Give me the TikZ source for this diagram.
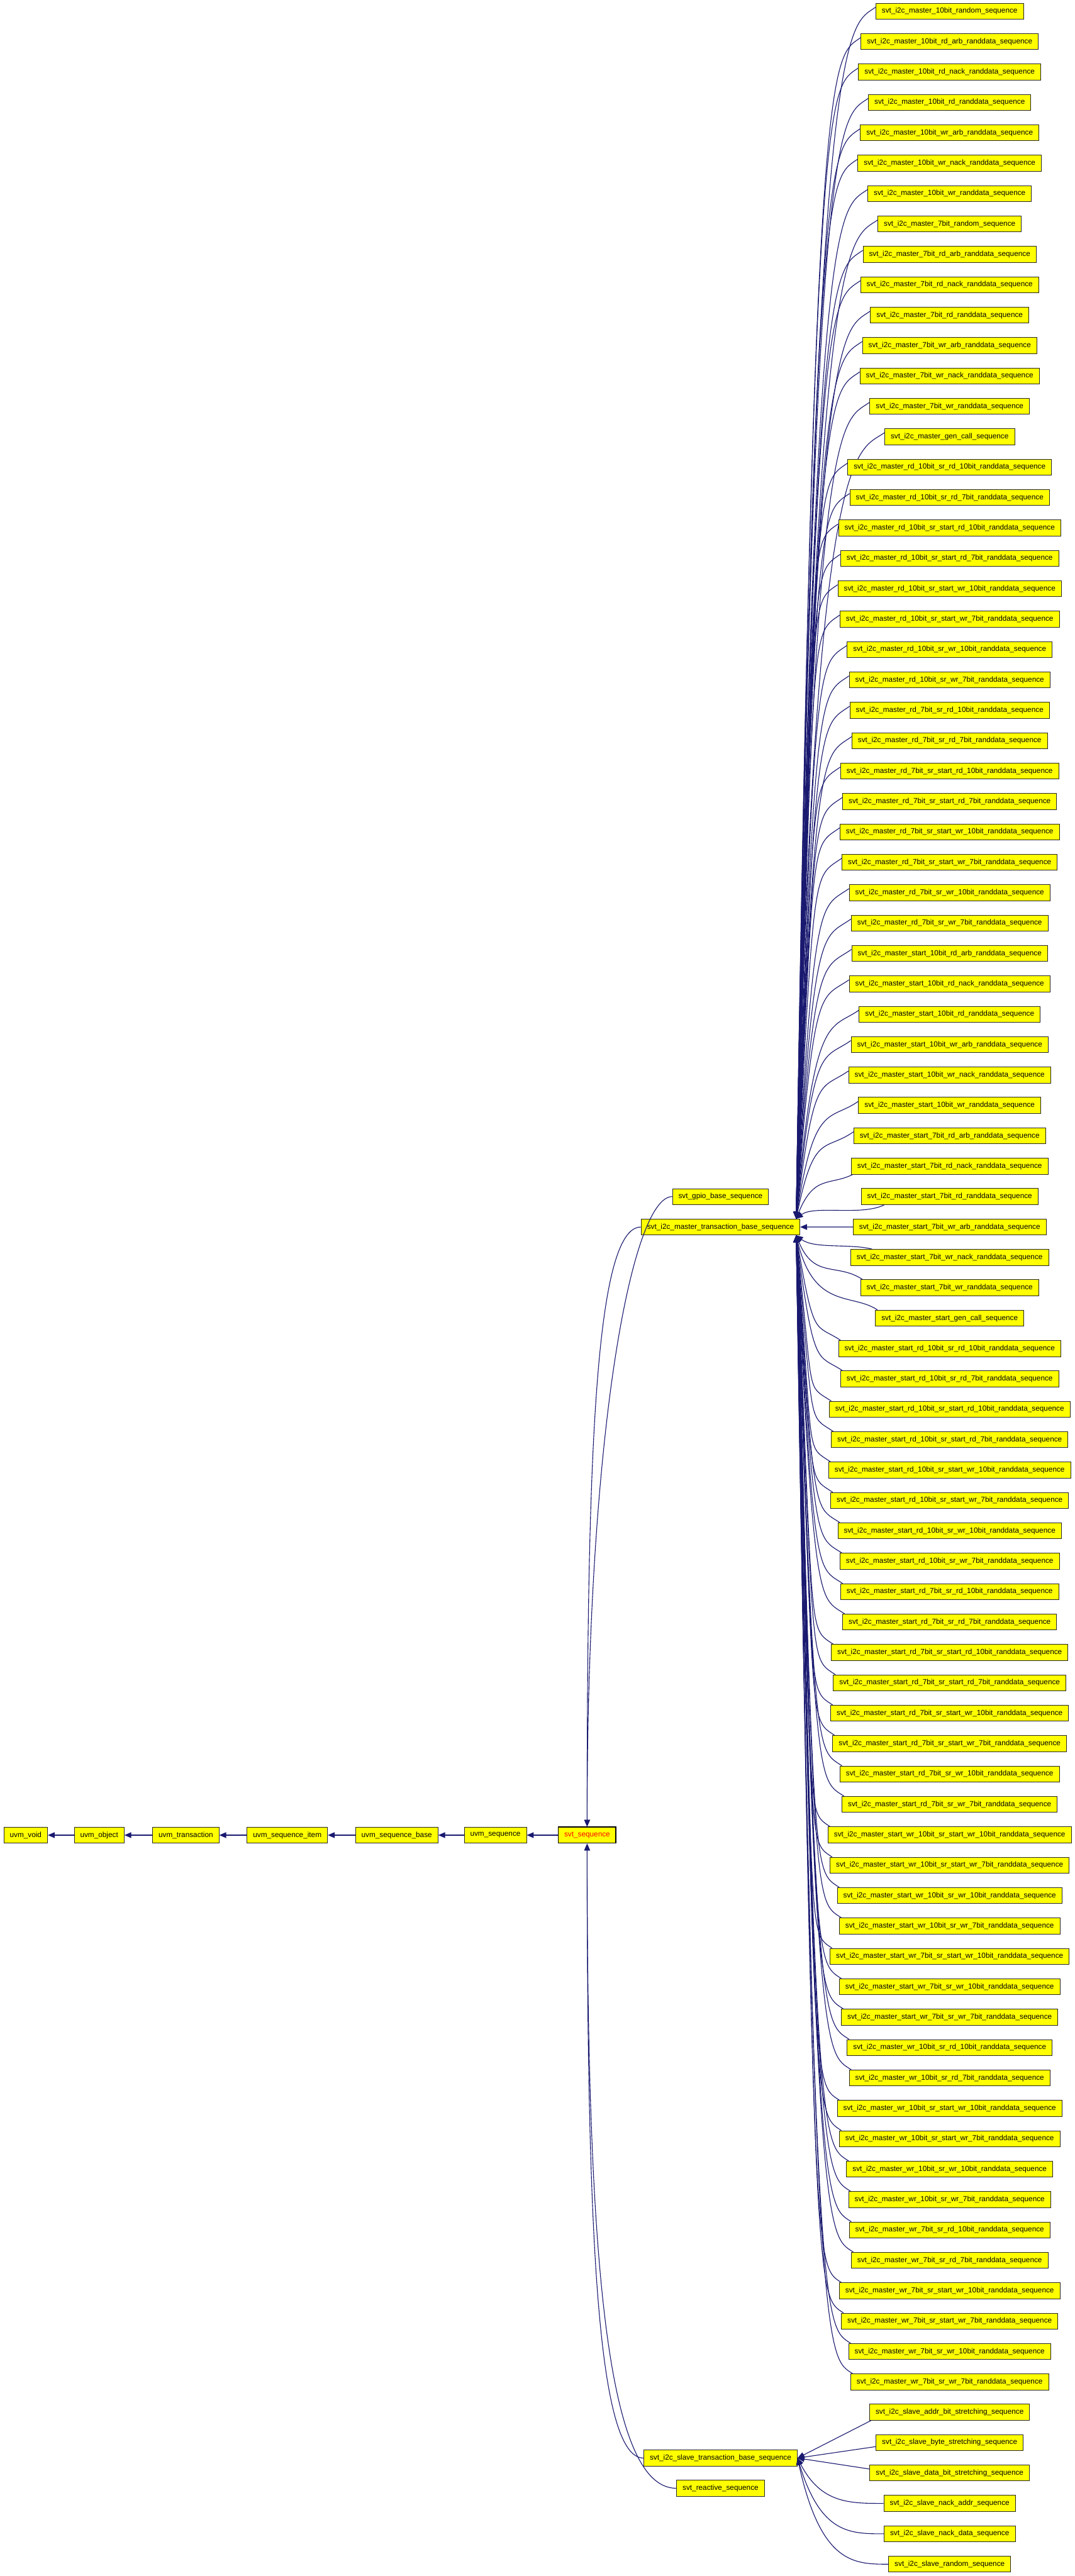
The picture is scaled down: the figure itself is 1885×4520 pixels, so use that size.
\documentclass[tikz,border=0pt]{standalone}
\usepackage{fontspec}
\setmainfont{Liberation Sans}
\usetikzlibrary{arrows.meta,calc}
\definecolor{edgecol}{RGB}{25,25,112}
\definecolor{boxcol}{RGB}{255,255,0}
\tikzset{
  cls/.style={draw=black!85,fill=boxcol,line width=0.3pt,inner xsep=0.105cm,inner ysep=0pt,
    minimum height=0.28cm,font=\fontsize{3.7}{4}\selectfont},
  edge/.style={draw=edgecol,line width=0.35pt,{Triangle[length=0.12cm,width=0.1cm]}-}
}

\begin{document}
\begin{tikzpicture}[x=0.01cm,y=-0.01cm]
\useasboundingbox (0,0) rectangle (1885,4520);
% base chain
\node[cls] (void) at (45,3220) {uvm\_void};
\node[cls] (object) at (174,3220) {uvm\_object};
\node[cls] (transaction) at (326,3220) {uvm\_transaction};
\node[cls] (seqitem) at (504,3220) {uvm\_sequence\_item};
\node[cls] (seqbase) at (696,3220) {uvm\_sequence\_base};
\node[cls] (uvmseq) at (869,3220) {uvm\_sequence};
\node[cls,line width=0.5pt,draw=black,text=red] (svtseq) at (1030,3220) {svt\_sequence};
\draw[edge] (void.east) -- (object.west);
\draw[edge] (object.east) -- (transaction.west);
\draw[edge] (transaction.east) -- (seqitem.west);
\draw[edge] (seqitem.east) -- (seqbase.west);
\draw[edge] (seqbase.east) -- (uvmseq.west);
\draw[edge] (uvmseq.east) -- (svtseq.west);
% direct children of svt_sequence
\node[cls] (gpio) at (1264,2099.6) {svt\_gpio\_base\_sequence};
\node[cls] (mbase) at (1264,2153) {svt\_i2c\_master\_transaction\_base\_sequence};
\node[cls] (sbase) at (1264,4313) {svt\_i2c\_slave\_transaction\_base\_sequence};
\node[cls] (reactive) at (1264,4366) {svt\_reactive\_sequence};
\draw[edge] (svtseq.north) .. controls +(0,-700) and +(-70,0) .. (gpio.west);
\draw[edge] (svtseq.north) .. controls +(0,-650) and +(-80,0) .. (mbase.west);
\draw[edge] (svtseq.south) .. controls +(0,700) and +(-80,0) .. (sbase.west);
\draw[edge] (svtseq.south) .. controls +(0,750) and +(-120,0) .. (reactive.west);
% master sequences
\coordinate (mhub) at (1428,2153);
\coordinate (mup) at ($(mbase.north east)+(-7,0)$);
\coordinate (mdown) at ($(mbase.south east)+(-7,0)$);
\foreach \name [count=\i from 0] in {
  svt\_i2c\_master\_10bit\_random\_sequence,
  svt\_i2c\_master\_10bit\_rd\_arb\_randdata\_sequence,
  svt\_i2c\_master\_10bit\_rd\_nack\_randdata\_sequence,
  svt\_i2c\_master\_10bit\_rd\_randdata\_sequence,
  svt\_i2c\_master\_10bit\_wr\_arb\_randdata\_sequence,
  svt\_i2c\_master\_10bit\_wr\_nack\_randdata\_sequence,
  svt\_i2c\_master\_10bit\_wr\_randdata\_sequence,
  svt\_i2c\_master\_7bit\_random\_sequence,
  svt\_i2c\_master\_7bit\_rd\_arb\_randdata\_sequence,
  svt\_i2c\_master\_7bit\_rd\_nack\_randdata\_sequence,
  svt\_i2c\_master\_7bit\_rd\_randdata\_sequence,
  svt\_i2c\_master\_7bit\_wr\_arb\_randdata\_sequence,
  svt\_i2c\_master\_7bit\_wr\_nack\_randdata\_sequence,
  svt\_i2c\_master\_7bit\_wr\_randdata\_sequence,
  svt\_i2c\_master\_gen\_call\_sequence,
  svt\_i2c\_master\_rd\_10bit\_sr\_rd\_10bit\_randdata\_sequence,
  svt\_i2c\_master\_rd\_10bit\_sr\_rd\_7bit\_randdata\_sequence,
  svt\_i2c\_master\_rd\_10bit\_sr\_start\_rd\_10bit\_randdata\_sequence,
  svt\_i2c\_master\_rd\_10bit\_sr\_start\_rd\_7bit\_randdata\_sequence,
  svt\_i2c\_master\_rd\_10bit\_sr\_start\_wr\_10bit\_randdata\_sequence,
  svt\_i2c\_master\_rd\_10bit\_sr\_start\_wr\_7bit\_randdata\_sequence,
  svt\_i2c\_master\_rd\_10bit\_sr\_wr\_10bit\_randdata\_sequence,
  svt\_i2c\_master\_rd\_10bit\_sr\_wr\_7bit\_randdata\_sequence,
  svt\_i2c\_master\_rd\_7bit\_sr\_rd\_10bit\_randdata\_sequence,
  svt\_i2c\_master\_rd\_7bit\_sr\_rd\_7bit\_randdata\_sequence,
  svt\_i2c\_master\_rd\_7bit\_sr\_start\_rd\_10bit\_randdata\_sequence,
  svt\_i2c\_master\_rd\_7bit\_sr\_start\_rd\_7bit\_randdata\_sequence,
  svt\_i2c\_master\_rd\_7bit\_sr\_start\_wr\_10bit\_randdata\_sequence,
  svt\_i2c\_master\_rd\_7bit\_sr\_start\_wr\_7bit\_randdata\_sequence,
  svt\_i2c\_master\_rd\_7bit\_sr\_wr\_10bit\_randdata\_sequence,
  svt\_i2c\_master\_rd\_7bit\_sr\_wr\_7bit\_randdata\_sequence,
  svt\_i2c\_master\_start\_10bit\_rd\_arb\_randdata\_sequence,
  svt\_i2c\_master\_start\_10bit\_rd\_nack\_randdata\_sequence,
  svt\_i2c\_master\_start\_10bit\_rd\_randdata\_sequence,
  svt\_i2c\_master\_start\_10bit\_wr\_arb\_randdata\_sequence,
  svt\_i2c\_master\_start\_10bit\_wr\_nack\_randdata\_sequence,
  svt\_i2c\_master\_start\_10bit\_wr\_randdata\_sequence,
  svt\_i2c\_master\_start\_7bit\_rd\_arb\_randdata\_sequence,
  svt\_i2c\_master\_start\_7bit\_rd\_nack\_randdata\_sequence,
  svt\_i2c\_master\_start\_7bit\_rd\_randdata\_sequence,
  svt\_i2c\_master\_start\_7bit\_wr\_arb\_randdata\_sequence,
  svt\_i2c\_master\_start\_7bit\_wr\_nack\_randdata\_sequence,
  svt\_i2c\_master\_start\_7bit\_wr\_randdata\_sequence,
  svt\_i2c\_master\_start\_gen\_call\_sequence,
  svt\_i2c\_master\_start\_rd\_10bit\_sr\_rd\_10bit\_randdata\_sequence,
  svt\_i2c\_master\_start\_rd\_10bit\_sr\_rd\_7bit\_randdata\_sequence,
  svt\_i2c\_master\_start\_rd\_10bit\_sr\_start\_rd\_10bit\_randdata\_sequence,
  svt\_i2c\_master\_start\_rd\_10bit\_sr\_start\_rd\_7bit\_randdata\_sequence,
  svt\_i2c\_master\_start\_rd\_10bit\_sr\_start\_wr\_10bit\_randdata\_sequence,
  svt\_i2c\_master\_start\_rd\_10bit\_sr\_start\_wr\_7bit\_randdata\_sequence,
  svt\_i2c\_master\_start\_rd\_10bit\_sr\_wr\_10bit\_randdata\_sequence,
  svt\_i2c\_master\_start\_rd\_10bit\_sr\_wr\_7bit\_randdata\_sequence,
  svt\_i2c\_master\_start\_rd\_7bit\_sr\_rd\_10bit\_randdata\_sequence,
  svt\_i2c\_master\_start\_rd\_7bit\_sr\_rd\_7bit\_randdata\_sequence,
  svt\_i2c\_master\_start\_rd\_7bit\_sr\_start\_rd\_10bit\_randdata\_sequence,
  svt\_i2c\_master\_start\_rd\_7bit\_sr\_start\_rd\_7bit\_randdata\_sequence,
  svt\_i2c\_master\_start\_rd\_7bit\_sr\_start\_wr\_10bit\_randdata\_sequence,
  svt\_i2c\_master\_start\_rd\_7bit\_sr\_start\_wr\_7bit\_randdata\_sequence,
  svt\_i2c\_master\_start\_rd\_7bit\_sr\_wr\_10bit\_randdata\_sequence,
  svt\_i2c\_master\_start\_rd\_7bit\_sr\_wr\_7bit\_randdata\_sequence,
  svt\_i2c\_master\_start\_wr\_10bit\_sr\_start\_wr\_10bit\_randdata\_sequence,
  svt\_i2c\_master\_start\_wr\_10bit\_sr\_start\_wr\_7bit\_randdata\_sequence,
  svt\_i2c\_master\_start\_wr\_10bit\_sr\_wr\_10bit\_randdata\_sequence,
  svt\_i2c\_master\_start\_wr\_10bit\_sr\_wr\_7bit\_randdata\_sequence,
  svt\_i2c\_master\_start\_wr\_7bit\_sr\_start\_wr\_10bit\_randdata\_sequence,
  svt\_i2c\_master\_start\_wr\_7bit\_sr\_wr\_10bit\_randdata\_sequence,
  svt\_i2c\_master\_start\_wr\_7bit\_sr\_wr\_7bit\_randdata\_sequence,
  svt\_i2c\_master\_wr\_10bit\_sr\_rd\_10bit\_randdata\_sequence,
  svt\_i2c\_master\_wr\_10bit\_sr\_rd\_7bit\_randdata\_sequence,
  svt\_i2c\_master\_wr\_10bit\_sr\_start\_wr\_10bit\_randdata\_sequence,
  svt\_i2c\_master\_wr\_10bit\_sr\_start\_wr\_7bit\_randdata\_sequence,
  svt\_i2c\_master\_wr\_10bit\_sr\_wr\_10bit\_randdata\_sequence,
  svt\_i2c\_master\_wr\_10bit\_sr\_wr\_7bit\_randdata\_sequence,
  svt\_i2c\_master\_wr\_7bit\_sr\_rd\_10bit\_randdata\_sequence,
  svt\_i2c\_master\_wr\_7bit\_sr\_rd\_7bit\_randdata\_sequence,
  svt\_i2c\_master\_wr\_7bit\_sr\_start\_wr\_10bit\_randdata\_sequence,
  svt\_i2c\_master\_wr\_7bit\_sr\_start\_wr\_7bit\_randdata\_sequence,
  svt\_i2c\_master\_wr\_7bit\_sr\_wr\_10bit\_randdata\_sequence,
  svt\_i2c\_master\_wr\_7bit\_sr\_wr\_7bit\_randdata\_sequence}{
  \node[cls] (c\i) at (1666,19.7+\i*53.33) {\name};
  % where each edge meets its child
  \ifnum\i<38
    \coordinate (e\i) at ($(c\i.west)+(0,-7)$);
    \coordinate (k\i) at ($(e\i)+(-50,35)$);
    \def\tip{mup}
  \else\ifnum\i<40
    \coordinate (e\i) at ($(c\i.south west)+(\i*38-1441,0)$);
    \coordinate (k\i) at ($(e\i)+(-40,20)$);
    \def\tip{mup}
  \else\ifnum\i=40
    \coordinate (e\i) at (c\i.west);
    \coordinate (k\i) at ($(e\i)+(-40,0)$);
    \def\tip{mbase.east}
  \else\ifnum\i=41
    \coordinate (e\i) at ($(c\i.north west)+(38,0)$);
    \coordinate (k\i) at ($(e\i)+(-40,-10)$);
    \def\tip{mdown}
  \else
    \coordinate (e\i) at ($(c\i.north west)+(4,0)$);
    \coordinate (k\i) at ($(e\i)+(-45,-30)$);
    \def\tip{mdown}
  \fi\fi\fi\fi
  \draw[edge] (\tip) .. controls (mhub |- e\i) and (k\i) .. (e\i);
}
% slave sequences
\coordinate (shub) at (1440,4313);
\foreach \name [count=\i from 0] in {
  svt\_i2c\_slave\_addr\_bit\_stretching\_sequence,
  svt\_i2c\_slave\_byte\_stretching\_sequence,
  svt\_i2c\_slave\_data\_bit\_stretching\_sequence,
  svt\_i2c\_slave\_nack\_addr\_sequence,
  svt\_i2c\_slave\_nack\_data\_sequence,
  svt\_i2c\_slave\_random\_sequence}{
  \node[cls] (s\i) at (1666,4232.6+\i*53.33) {\name};
}
\draw[edge] (sbase.east) -- ($(s0.south west)+(3,0)$);
\draw[edge] (sbase.east) -- ($(s1.west)+(0,7)$);
\draw[edge] (sbase.east) -- ($(s2.west)+(0,-7)$);
\foreach \i in {3,4,5}
  \draw[edge] (sbase.east) .. controls (shub |- s\i.west) and ($(s\i.west)+(-60,0)$) .. (s\i.west);
\end{tikzpicture}
\end{document}
